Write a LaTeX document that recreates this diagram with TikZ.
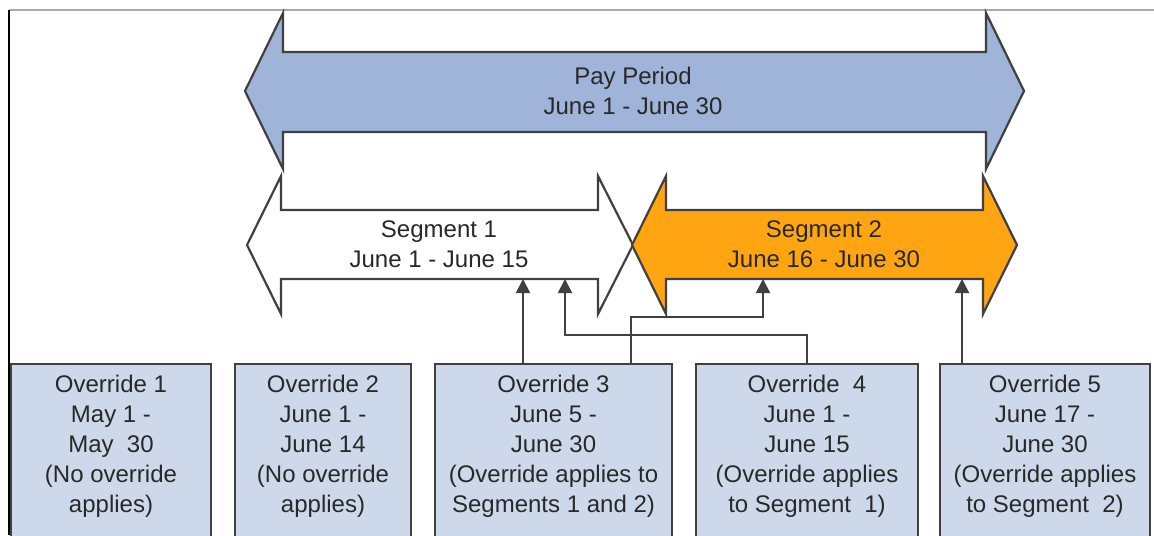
\documentclass[tikz,border=0pt]{standalone}
\usepackage{fontspec}
\setmainfont{Liberation Sans}
\usetikzlibrary{arrows.meta,positioning}
\definecolor{payBlue}{RGB}{160,180,217}
\definecolor{ovrBlue}{RGB}{205,217,234}
\definecolor{segOrange}{RGB}{255,165,18}
\definecolor{edgeGray}{RGB}{64,64,64}
\definecolor{textGray}{RGB}{40,40,40}
\definecolor{frameGray}{RGB}{170,170,170}

\begin{document}
\begin{tikzpicture}[x=0.5pt, y=-0.5pt,
    band/.style={draw=edgeGray, line width=1.1pt, line join=miter},
    lbl/.style={font=\fontsize{12}{15}\selectfont, text=textGray, align=center},
    ovr/.style={rectangle, draw=edgeGray, fill=ovrBlue, line width=1pt, anchor=north,
                font=\fontsize{12}{15}\selectfont, text=textGray, align=center,
                inner xsep=0pt, inner ysep=5.5pt, text depth=100pt, outer sep=0pt},
    arr/.style={-{Triangle[length=7pt,width=7pt]}, edgeGray, line width=1pt}
  ]
  \useasboundingbox (0,0) rectangle (1154,535);
  \clip (0,0) rectangle (1154,535);

  % frame edges
  \draw[frameGray, line width=0.8pt] (9,10) -- (1154,10);
  \draw[black, line width=0.8pt] (9,10) -- (9,535);

  % Pay period band
  \draw[band, fill=payBlue] (245,91) -- (283,13) -- (283,52) -- (986,52) -- (986,13)
    -- (1024,91) -- (986,169) -- (986,132) -- (283,132) -- (283,169) -- cycle;
  \node[lbl] (pay) at (633,91) {Pay Period\\June 1 - June 30};

  % Segments
  \draw[band, fill=white] (247,245) -- (281,176) -- (281,210) -- (598,210) -- (598,176)
    -- (633,245) -- (598,314) -- (598,279) -- (281,279) -- (281,314) -- cycle;
  \draw[band, fill=segOrange] (632,245) -- (666,176) -- (666,210) -- (983,210) -- (983,176)
    -- (1017,245) -- (983,314) -- (983,279) -- (666,279) -- (666,314) -- cycle;
  \node[lbl] (seg1) at (439,244) {Segment 1\\June 1 - June 15};
  \node[lbl] (seg2) at (824,244) {Segment 2\\June 16 - June 30};

  % Overrides
  \node[ovr, minimum width=100pt]  (o1) at (111,364)
    {Override 1\\May 1 -\\May\ \ 30\\(No override\\applies)};
  \node[ovr, minimum width=88pt]   (o2) at (323,364)
    {Override 2\\June 1 -\\June 14\\(No override\\applies)};
  \node[ovr, minimum width=118.5pt] (o3) at (553.5,364)
    {Override 3\\June 5 -\\June 30\\(Override applies to\\Segments 1 and 2)};
  \node[ovr, minimum width=111pt]  (o4) at (807,364)
    {Override\ \ 4\\June 1 -\\June 15\\(Override applies\\to Segment\ \ 1)};
  \node[ovr, minimum width=105pt]  (o5) at (1045,364)
    {Override 5\\June 17 -\\June 30\\(Override applies\\to Segment\ \ 2)};

  % Connections
  \coordinate (s1a) at (523,279);
  \coordinate (s1b) at (565,279);
  \coordinate (s2a) at (763,279);
  \coordinate (s2b) at (962,279);
  \coordinate (j3) at (631,317);
  \coordinate (j4) at (565,335);

  \draw[arr] (o3.north -| s1a) -- (s1a);
  \draw[arr] (o3.north -| j3) -- (j3) -| (s2a);
  \draw[arr] (o4.north) |- (j4) -- (s1b);
  \draw[arr] (o5.north -| s2b) -- (s2b);
\end{tikzpicture}
\end{document}
